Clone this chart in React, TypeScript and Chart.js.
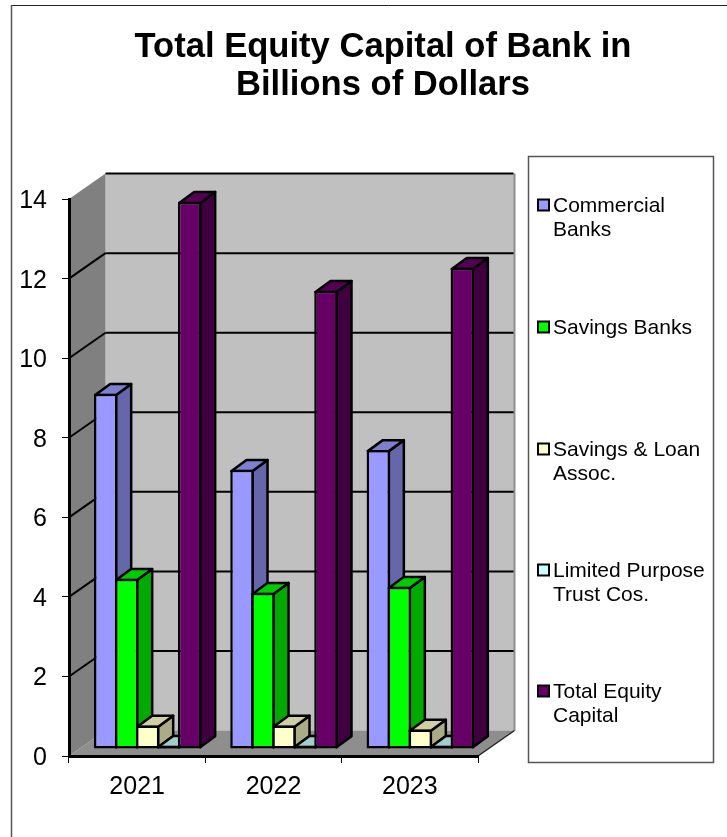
import { useEffect, useRef } from "react";
import { Chart, registerables } from "chart.js";

Chart.register(...registerables);

const years = ["2021", "2022", "2023"];
const commercialBanks = [8.93, 7.02, 7.52];
const savingsBanks = [4.28, 3.93, 4.08];
const savingsLoan = [0.59, 0.59, 0.49];
const limitedPurpose = [0.08, 0.08, 0.08];
const totalEquity = [13.76, 11.52, 12.1];
const seriesNames = [
  ["Commercial", "Banks"],
  ["Savings Banks"],
  ["Savings & Loan", "Assoc."],
  ["Limited Purpose", "Trust Cos."],
  ["Total Equity", "Capital"],
];
const frontColors = ["#9999FF", "#00FF00", "#FFFFCC", "#CCFFFF", "#660066"];
const topColors = ["#7F7FD0", "#00CC00", "#D0CFA3", "#A3CCCC", "#550055"];
const sideColors = ["#6666AA", "#00AA00", "#ABAB88", "#88AAAA", "#400040"];
const FONT = '"Liberation Sans", Arial, sans-serif';

// projection of the 3D box
const WALL_DX = 36.5;
const WALL_DY = 25.5;
const BAR_SHIFT_X = 10.5;
const BAR_SHIFT_Y = 7;
const BAR_DX = 15;
const BAR_DY = 11;
const BAR_LINE = 2.5;

const poly = (ctx: CanvasRenderingContext2D, pts: number[][], fill: string, stroke?: string, lw = BAR_LINE) => {
  ctx.beginPath();
  pts.forEach(([x, y], i) => (i ? ctx.lineTo(x, y) : ctx.moveTo(x, y)));
  ctx.closePath();
  ctx.fillStyle = fill;
  ctx.fill();
  if (stroke) {
    ctx.strokeStyle = stroke;
    ctx.lineWidth = lw;
    ctx.lineJoin = "round";
    ctx.stroke();
  }
};

const line = (ctx: CanvasRenderingContext2D, x1: number, y1: number, x2: number, y2: number, c: string, lw: number) => {
  ctx.beginPath();
  ctx.moveTo(x1, y1);
  ctx.lineTo(x2, y2);
  ctx.strokeStyle = c;
  ctx.lineWidth = lw;
  ctx.stroke();
};

const box3d = {
  id: "box3d",
  beforeDraw(chart: any) {
    const { ctx, chartArea: a, scales } = chart;
    const y = scales.y;
    const y0 = y.getPixelForValue(0);
    const yTop = y.getPixelForValue(14);
    // value labels sit a little lower than the tick they name
    if (!y.$labelsMoved) {
      y.getLabelItems(a).forEach((item: any) => {
        item.options.translation[1] += 2;
      });
      y.$labelsMoved = true;
    }
    ctx.save();
    ctx.fillStyle = "#fff";
    ctx.fillRect(0, 0, chart.width, chart.height);
    // outer frame
    line(ctx, 11, 5.5, chart.width, 5.5, "#222", 1);
    line(ctx, 11.5, 5, 11.5, chart.height, "#555", 1.5);
    // walls and floor
    poly(ctx, [[a.left + WALL_DX, yTop - WALL_DY], [a.right + WALL_DX, yTop - WALL_DY], [a.right + WALL_DX, y0 - WALL_DY], [a.left + WALL_DX, y0 - WALL_DY]], "#C0C0C0");
    poly(ctx, [[a.left, yTop], [a.left + WALL_DX, yTop - WALL_DY], [a.left + WALL_DX, y0 - WALL_DY], [a.left, y0]], "#808080");
    poly(ctx, [[a.left, y0], [a.left + WALL_DX, y0 - WALL_DY], [a.right + WALL_DX, y0 - WALL_DY], [a.right, y0]], "#8E8E8E");
    line(ctx, a.right + WALL_DX, yTop - WALL_DY, a.right + WALL_DX, y0 - WALL_DY, "#8E8E8E", 2);
    line(ctx, a.right, y0, a.right + WALL_DX, y0 - WALL_DY, "#222", 1.5);
    // gridlines on both walls
    y.ticks.forEach((t: any) => {
      if (t.value === 0) return;
      const p = y.getPixelForValue(t.value);
      if (t.value !== 14) line(ctx, a.left, p, a.left + WALL_DX, p - WALL_DY, "#000", 2);
      line(ctx, a.left + WALL_DX, p - WALL_DY, a.right + WALL_DX - 1, p - WALL_DY, "#000", 2);
    });
    ctx.restore();
  },
  // paint the series left to right, so that each bar's front hides its neighbour's side
  beforeDatasetsDraw(chart: any) {
    const { ctx } = chart;
    seriesValues.forEach((_, i) => {
      const meta = chart.getDatasetMeta(i);
      ctx.save();
      ctx.translate(BAR_SHIFT_X, -BAR_SHIFT_Y);
      const m = BAR_LINE / 2;
      meta.data.forEach((bar: any) => {
        const { x, y, base, width } = bar.getProps(["x", "y", "base", "width"], true);
        const l = x - width / 2 + m;
        const r = x + width / 2 - m;
        const t = y + m;
        const b = base - m;
        poly(ctx, [[r, t], [r + BAR_DX, t - BAR_DY], [r + BAR_DX, b - BAR_DY], [r, b]], sideColors[i], "#000");
        poly(ctx, [[l, t], [l + BAR_DX, t - BAR_DY], [r + BAR_DX, t - BAR_DY], [r, t]], topColors[i], "#000");
      });
      meta.controller.draw();
      ctx.restore();
    });
    return false;
  },
  afterDraw(chart: any) {
    const { ctx } = chart;
    ctx.save();
    // legend panel
    ctx.fillStyle = "#fff";
    ctx.fillRect(528.5, 156.5, 185, 606);
    ctx.strokeStyle = "#555";
    ctx.lineWidth = 1.5;
    ctx.strokeRect(528.5, 156.5, 185, 606);
    const centers = [205, 327, 449, 570, 691];
    ctx.font = `21px ${FONT}`;
    ctx.textBaseline = "middle";
    ctx.textAlign = "left";
    seriesNames.forEach((lines, i) => {
      ctx.fillStyle = frontColors[i];
      ctx.fillRect(538, centers[i] - 5.5, 11, 11);
      ctx.strokeStyle = "#000";
      ctx.lineWidth = 2;
      ctx.strokeRect(538, centers[i] - 5.5, 11, 11);
      ctx.fillStyle = "#000";
      lines.forEach((s, k) => ctx.fillText(s, 553, centers[i] + 1 + k * 24));
    });
    ctx.restore();
  },
};

const seriesValues = [commercialBanks, savingsBanks, savingsLoan, limitedPurpose, totalEquity];

export default function App() {
  const ref = useRef<HTMLCanvasElement>(null);
  useEffect(() => {
    const chart = new Chart(ref.current as HTMLCanvasElement, {
      type: "bar",
      data: {
        labels: years,
        datasets: seriesValues.map((values, i) => ({
          label: seriesNames[i].join(" "),
          data: values,
          backgroundColor: frontColors[i],
          borderColor: "#000",
          borderWidth: BAR_LINE,
          borderSkipped: false,
        })),
      },
      options: {
        responsive: false,
        animation: false,
        devicePixelRatio: 1,
        layout: { padding: { left: 0, right: 0, top: 0, bottom: 21 } },
        datasets: { bar: { categoryPercentage: 0.77, barPercentage: 1.12 } },
        plugins: {
          legend: { display: false },
          tooltip: { enabled: false },
          title: {
            display: true,
            text: ["Total Equity Capital of Bank in", "Billions of Dollars"],
            color: "#000",
            font: { family: FONT, size: 34.6, weight: "bold", lineHeight: 1.1 },
            padding: { top: 28, bottom: 95 },
          },
        },
        scales: {
          x: {
            grid: { drawOnChartArea: false, tickLength: 7, tickWidth: 1, tickColor: "#000" },
            border: { color: "#000", width: 3 },
            ticks: { color: "#000", font: { family: FONT, size: 25 }, padding: 9, maxRotation: 0 },
            afterFit(s: any) { s.height = 60; },
          },
          y: {
            min: 0,
            max: 14,
            grid: { drawOnChartArea: false, tickLength: 7, tickWidth: 1, tickColor: "#000" },
            border: { color: "#000", width: 3 },
            ticks: { stepSize: 2, color: "#000", font: { family: FONT, size: 25 }, padding: 15 },
            afterFit(s: any) { s.width = 69; },
          },
          // reserves the room taken by the legend panel
          room: {
            type: "linear",
            position: "right",
            grid: { display: false },
            border: { display: false },
            ticks: { display: false },
            afterFit(s: any) { s.width = 288; },
          },
        },
      } as any,
      plugins: [box3d],
    });
    return () => chart.destroy();
  }, []);
  return (
    <div style={{ position: "absolute", left: 0, top: 0, width: 727, height: 837, overflow: "hidden" }}>
      <canvas ref={ref} width={766} height={837} style={{ display: "block", width: 766, height: 837 }} />
    </div>
  );
}
